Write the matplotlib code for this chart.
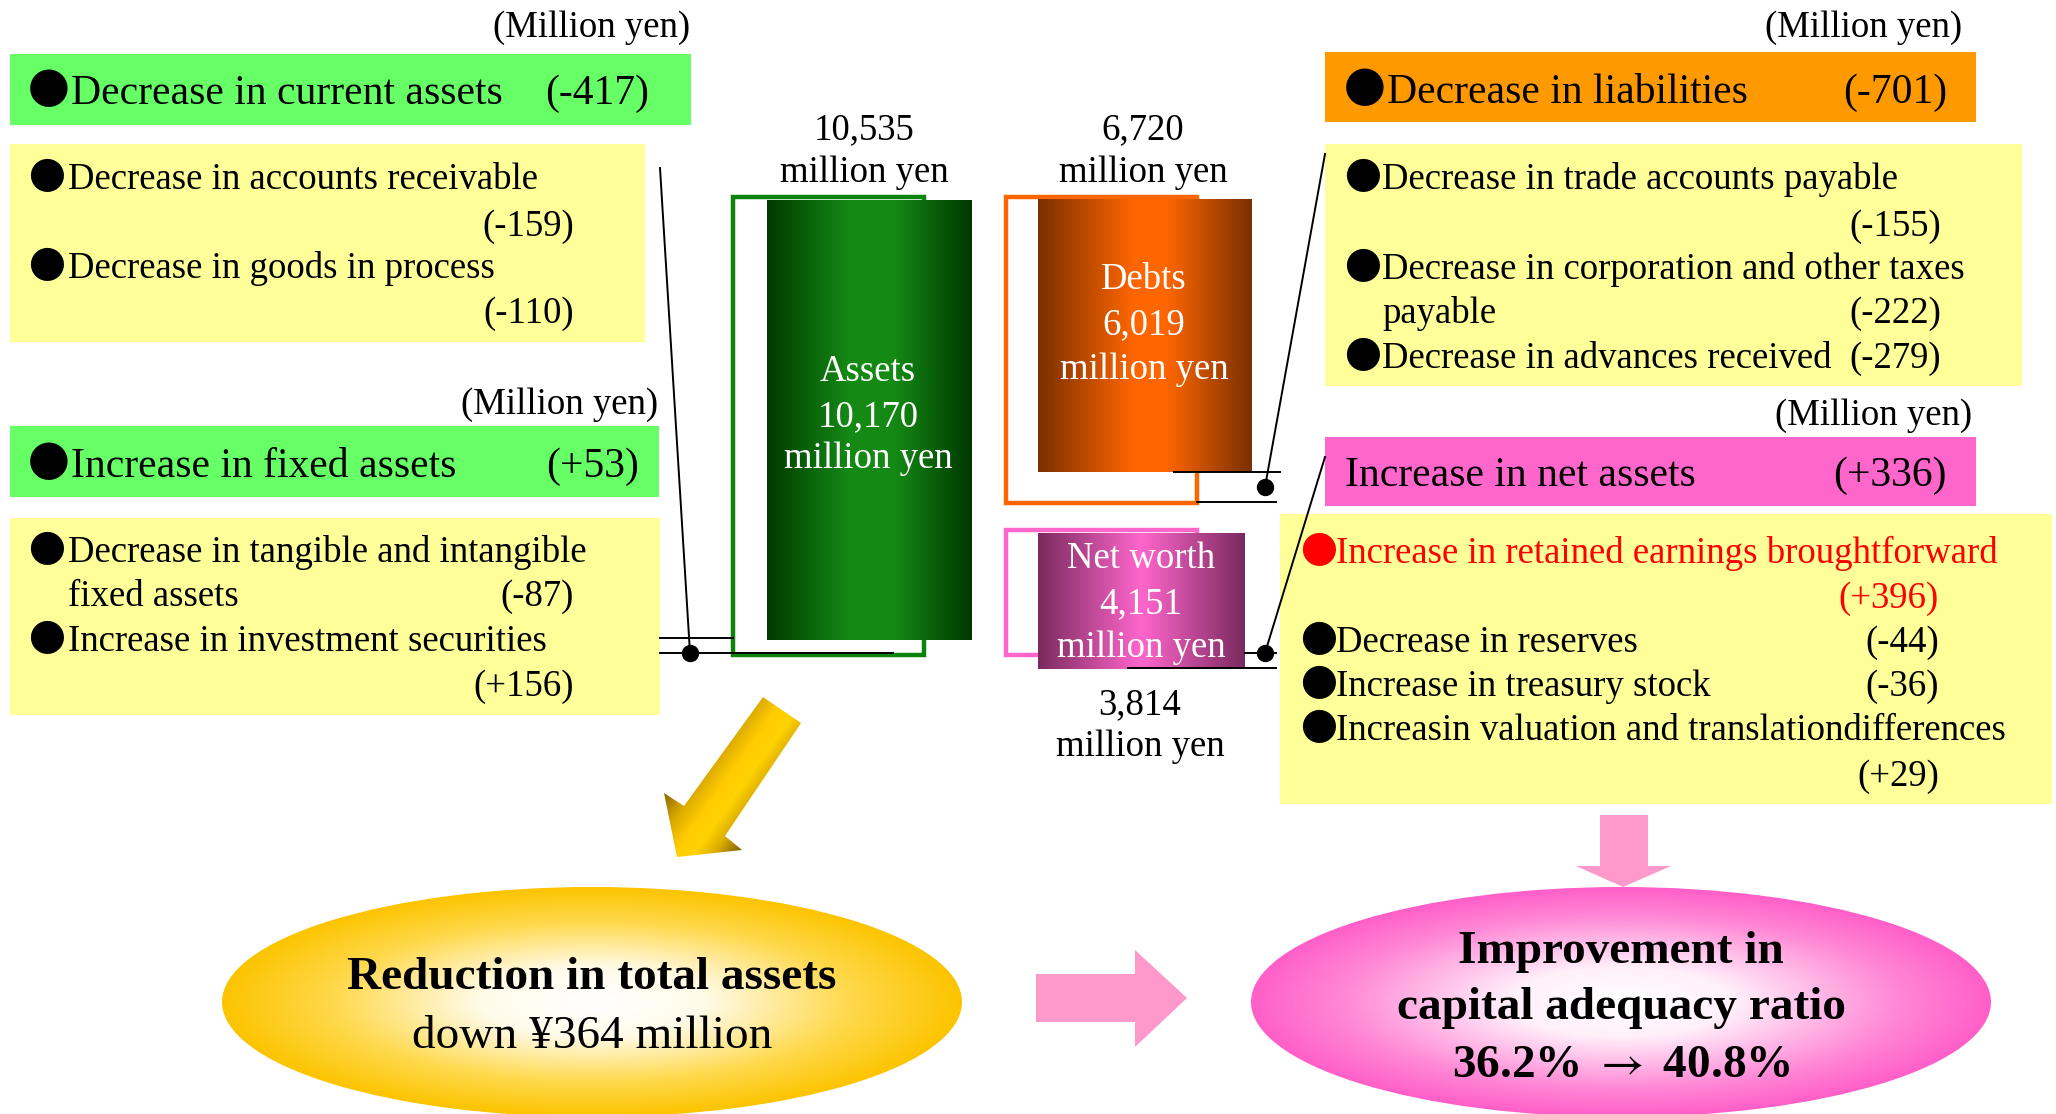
import numpy as np
import matplotlib.pyplot as plt
from matplotlib.colors import LinearSegmentedColormap
from matplotlib.patches import Rectangle, Ellipse, Polygon

SERIF = "Liberation Serif"
BULLET_FONT = "Noto Sans CJK JP"
plt.rcParams["mathtext.fontset"] = "stix"

# values shown in the chart
unit_note = "(Million yen)"
current_head = "Decrease in current assets"
current_total = "(-417)"
current_items = ["Decrease in accounts receivable", "Decrease in goods in process"]
current_vals = ["(-159)", "(-110)"]

fixed_head = "Increase in fixed assets"
fixed_total = "(+53)"
fixed_items = ["Decrease in tangible and intangible", "Increase in investment securities"]
fixed_vals = ["(-87)", "(+156)"]

liab_head = "Decrease in liabilities"
liab_total = "(-701)"
liab_items = ["Decrease in trade accounts payable", "Decrease in corporation and other taxes",
              "Decrease in advances received"]
liab_vals = ["(-155)", "(-222)", "(-279)"]

net_head = "Increase in net assets"
net_total = "(+336)"
net_items = ["Increase in retained earnings broughtforward", "Decrease in reserves",
             "Increase in treasury stock", "Increasin valuation and translationdifferences"]
net_vals = ["(+396)", "(-44)", "(-36)", "(+29)"]

bar_names = ["Assets", "Debts", "Net worth"]
bar_now = ["10,170", "6,019", "4,151"]
bar_prev = ["10,535", "6,720", "3,814"]
unit = "million yen"

total_title = "Reduction in total assets"
total_change = "down ¥364 million"
ratio_title = ["Improvement in", "capital adequacy ratio"]
ratio_before, ratio_after = "36.2%", "40.8%"

W, H = 2056, 1114
fig = plt.figure(figsize=(W / 100, H / 100), dpi=100)
ax = fig.add_axes([0, 0, 1, 1])


def box(x0, y0, x1, y1, color, z=1):
    ax.add_patch(Rectangle((x0, y0), x1 - x0, y1 - y0, facecolor=color, edgecolor="none", zorder=z))


def txt(x, y, s, size=26.5, ha="left", color="black", weight="normal"):
    ax.text(x, y, s, fontsize=size, ha=ha, va="baseline", color=color,
            family=SERIF, fontweight=weight, zorder=10)


def bullet(x, y, size=26.5, color="black"):
    ax.text(x, y, "●", fontsize=size, ha="left", va="baseline", color=color,
            family=BULLET_FONT, zorder=10)


def grad_rect(x0, y0, x1, y1, stops, z=4):
    cmap = LinearSegmentedColormap.from_list("g", stops)
    arr = np.linspace(0, 1, 256).reshape(1, -1)
    ax.imshow(arr, cmap=cmap, extent=[x0, x1, y1, y0], aspect="auto", zorder=z,
              interpolation="bilinear")


def grad_ellipse(cx, cy, a, b, stops):
    cmap = LinearSegmentedColormap.from_list("e", stops)
    e = Ellipse((cx, cy), 2 * a, 2 * b, facecolor="none", edgecolor="none")
    ax.add_patch(e)
    X, Y = np.meshgrid(np.linspace(-1, 1, 500), np.linspace(-1, 1, 250))
    R = np.clip(np.sqrt(X ** 2 + Y ** 2), 0, 1)
    im = ax.imshow(R, cmap=cmap, extent=[cx - a, cx + a, cy + b, cy - b], aspect="auto",
                   zorder=2, vmin=0, vmax=1)
    im.set_clip_path(e)


# ---- left side: assets changes ----
txt(690, 37, unit_note, ha="right")
box(10, 54, 691, 125, "#66ff66")
bullet(28, 104, size=30)
txt(71, 104, current_head, size=30)
txt(649, 104, current_total, size=30, ha="right")

box(10, 144, 645, 342, "#ffff99")
bullet(28, 189)
txt(68, 189, current_items[0])
txt(574, 236, current_vals[0], ha="right")
bullet(28, 278)
txt(68, 278, current_items[1])
txt(574, 323, current_vals[1], ha="right")

txt(658, 414, unit_note, ha="right")
box(10, 426, 659, 497, "#66ff66")
bullet(28, 477, size=30)
txt(71, 477, fixed_head, size=30)
txt(639, 477, fixed_total, size=30, ha="right")

box(10, 518, 660, 715, "#ffff99")
bullet(28, 562)
txt(68, 562, fixed_items[0])
txt(68, 606, "fixed assets")
txt(574, 606, fixed_vals[0], ha="right")
bullet(28, 651)
txt(68, 651, fixed_items[1])
txt(574, 696, fixed_vals[1], ha="right")

# ---- right side: liabilities and net assets ----
txt(1962, 37, unit_note, ha="right")
box(1325, 52, 1976, 122, "#ff9900")
bullet(1344, 103, size=30)
txt(1387, 103, liab_head, size=30)
txt(1947, 103, liab_total, size=30, ha="right")

box(1325, 144, 2022, 386, "#ffff99")
bullet(1344, 189)
txt(1382, 189, liab_items[0])
txt(1941, 236, liab_vals[0], ha="right")
bullet(1344, 279)
txt(1382, 279, liab_items[1])
txt(1382, 323, "payable")
txt(1941, 323, liab_vals[1], ha="right")
bullet(1344, 368)
txt(1382, 368, liab_items[2])
txt(1941, 368, liab_vals[2], ha="right")

txt(1972, 425, unit_note, ha="right")
box(1325, 437, 1976, 506, "#ff66cc")
txt(1345, 486, net_head, size=30)
txt(1947, 486, net_total, size=30, ha="right")

box(1280, 514, 2052, 804, "#ffff99")
bullet(1300, 563, color="red")
txt(1336, 563, net_items[0], color="red")
txt(1939, 608, net_vals[0], ha="right", color="red")
bullet(1300, 652)
txt(1336, 652, net_items[1])
txt(1939, 652, net_vals[1], ha="right")
bullet(1300, 696)
txt(1336, 696, net_items[2])
txt(1939, 696, net_vals[2], ha="right")
bullet(1300, 740)
txt(1336, 740, net_items[3])
txt(1939, 786, net_vals[3], ha="right")

# ---- centre: balance sheet columns ----
# previous-year outlines
ax.add_patch(Rectangle((733, 197), 191, 458, facecolor="white", edgecolor="#0a840a", lw=3.2, zorder=3))
ax.add_patch(Rectangle((1006, 197), 191, 306, facecolor="white", edgecolor="#ff6600", lw=3.2, zorder=3))
ax.add_patch(Rectangle((1006, 530), 191, 125, facecolor="white", edgecolor="#ff66cc", lw=3.2, zorder=3))

grad_rect(767, 200, 972, 640, [(0, "#003a00"), (0.4, "#148a14"), (0.62, "#148a14"), (1, "#003800")])
grad_rect(1038, 199, 1252, 472, [(0, "#7a3000"), (0.45, "#ff6600"), (0.6, "#ff6600"), (1, "#7a3000")])
grad_rect(1038, 533, 1245, 669, [(0, "#7a2a5e"), (0.5, "#ff66cc"), (1, "#7a2a5e")])

txt(868, 381, bar_names[0], ha="center", color="white")
txt(868, 426, bar_now[0], ha="center", color="white")
txt(868, 468, unit, ha="center", color="white")
txt(1144, 289, bar_names[1], ha="center", color="white")
txt(1144, 334, bar_now[1], ha="center", color="white")
txt(1144, 379, unit, ha="center", color="white")
txt(1141, 568, bar_names[2], ha="center", color="white")
txt(1141, 613, bar_now[2], ha="center", color="white")
txt(1141, 657, unit, ha="center", color="white")

txt(864, 139, bar_prev[0], ha="center")
txt(864, 182, unit, ha="center")
txt(1143, 139, bar_prev[1], ha="center")
txt(1143, 182, unit, ha="center")
txt(1140, 714, bar_prev[2], ha="center")
txt(1140, 756, unit, ha="center")

# connector lines
lk = dict(color="black", lw=1.4, zorder=8)
ax.plot([660, 733], [638, 638], **lk)
ax.plot([660, 893], [653, 653], **lk)
ax.plot([660, 690], [168, 653], **lk)
ax.plot([690], [653], "o", color="black", ms=11.5, zorder=9)

ax.plot([1174, 1280], [472, 472], **lk)
ax.plot([1197, 1276], [502, 502], **lk)
ax.plot([1265, 1325], [487, 154], **lk)
ax.plot([1265], [487], "o", color="black", ms=11.5, zorder=9)

ax.plot([1245, 1276], [653, 653], **lk)
ax.plot([1128, 1276], [668, 668], **lk)
ax.plot([1265, 1325], [653, 457], **lk)
ax.plot([1265], [653], "o", color="black", ms=11.5, zorder=9)

# ---- bottom: arrows and result ellipses ----
arrow_pts = [(763, 697), (801, 723), (725, 836), (742, 850), (677, 857), (664, 793), (684, 806)]
arrow = Polygon(arrow_pts, closed=True, facecolor="none", edgecolor="none")
ax.add_patch(arrow)
X, Y = np.meshgrid(np.linspace(650, 815, 200), np.linspace(690, 865, 200))
T = ((X - 782) * 0.814 + (Y - 710) * 0.581 + 50) / 100
acmap = LinearSegmentedColormap.from_list(
    "a", [(0, "#806000"), (0.25, "#d9a900"), (0.45, "#ffcc00"), (0.62, "#ffd200"), (0.78, "#dcae00"), (1, "#7a5a00")])
im = ax.imshow(T, cmap=acmap, extent=[650, 815, 865, 690], aspect="auto", zorder=2, vmin=0, vmax=1)
im.set_clip_path(arrow)

ax.add_patch(Polygon([(1036, 974), (1135, 974), (1135, 950), (1187, 998), (1135, 1047), (1135, 1022), (1036, 1022)],
                     closed=True, facecolor="#ff99cc", edgecolor="none", zorder=2))
ax.add_patch(Polygon([(1600, 815), (1648, 815), (1648, 866), (1671, 866), (1623, 887), (1576, 866), (1600, 866)],
                     closed=True, facecolor="#ff99cc", edgecolor="none", zorder=2))

grad_ellipse(592, 1002, 370, 115, [(0, "#ffffff"), (0.3, "#fffbea"), (0.7, "#ffd94c"), (1, "#fcc400")])
grad_ellipse(1621, 1002, 370, 115, [(0, "#ffffff"), (0.3, "#fff0fa"), (0.75, "#ff88d6"), (1, "#ff5fc8")])

txt(592, 989, total_title, size=34, ha="center", weight="bold")
txt(592, 1048, total_change, size=34, ha="center")
txt(1621, 963, ratio_title[0], size=34, ha="center", weight="bold")
txt(1621, 1019, ratio_title[1], size=34, ha="center", weight="bold")
txt(1621, 1077, ratio_before + r" $\rightarrow$ " + ratio_after, size=34, ha="center", weight="bold")

ax.set_xlim(0, W)
ax.set_ylim(H, 0)
ax.axis("off")
fig.savefig("out.png", dpi=100)
